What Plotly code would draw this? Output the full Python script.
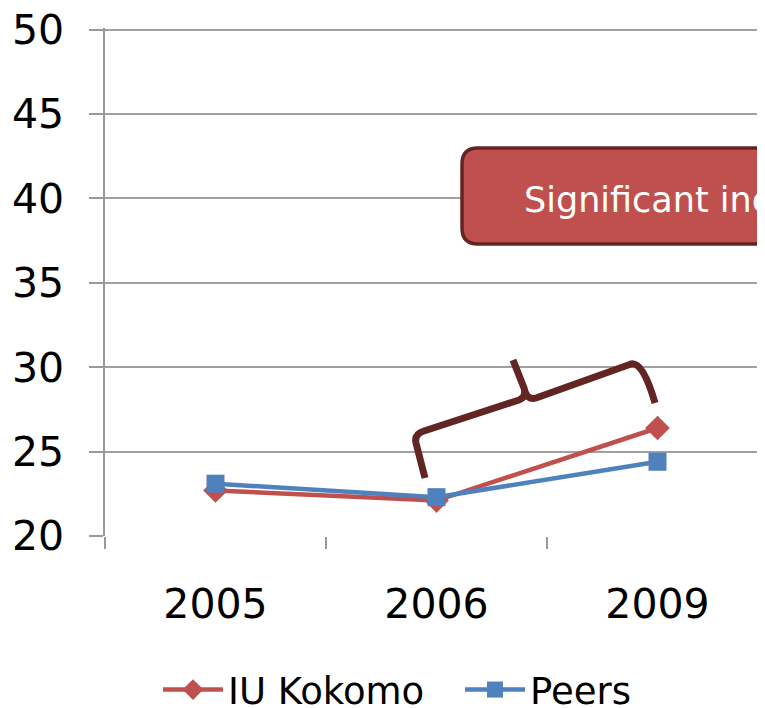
import plotly.graph_objects as go

years = ["2005", "2006", "2009"]
iu_kokomo = [22.7, 22.1, 26.4]
peers = [23.1, 22.3, 24.4]
y_ticks = [20, 25, 30, 35, 40, 45, 50]
callout_text = "Significant increase"

# page body has an 8px margin, so the figure is drawn shifted by 8px
OFF = 8
W, H = 765, 708
L, R, T, B = 97, 5, 20, 180
PW, PH = W - L - R, H - T - B

def px(x, y):
    x -= OFF
    y -= OFF
    return (x - L) / PW, (H - B - y) / PH

def path(cmds):
    out = []
    for c in cmds:
        if isinstance(c, str):
            out.append(c)
        else:
            xx, yy = px(*c)
            out.append(f"{xx:.5f},{yy:.5f}")
    return " ".join(out)

FONT = "DejaVu Sans"
fig = go.Figure()
fig.add_trace(go.Scatter(x=years, y=iu_kokomo, name="IU Kokomo", mode="lines+markers",
                         line=dict(color="#C0504D", width=4.5),
                         marker=dict(symbol="diamond", size=19, color="#C0504D")))
fig.add_trace(go.Scatter(x=years, y=peers, name="Peers", mode="lines+markers",
                         line=dict(color="#4F81BD", width=4.5),
                         marker=dict(symbol="square", size=18, color="#4F81BD")))

# rounded callout box
r = 16
x0, x1, y0, y1 = 462, 840, 148, 244
box = path(["M", (x0 + r, y0), "L", (x1 - r, y0), "Q", (x1, y0), (x1, y0 + r),
            "L", (x1, y1 - r), "Q", (x1, y1), (x1 - r, y1),
            "L", (x0 + r, y1), "Q", (x0, y1), (x0, y1 - r),
            "L", (x0, y0 + r), "Q", (x0, y0), (x0 + r, y0), "Z"])
brace = path(["M", (425, 478), "L", (416, 443), "Q", (414, 434), (424, 431),
              "L", (519, 400), "Q", (527, 397), (524, 388), "L", (513, 360),
              "M", (524, 388), "Q", (527, 401), (536, 398),
              "L", (631, 364), "Q", (643, 361), (655, 403)])
fig.update_layout(shapes=[
    dict(type="path", xref="paper", yref="paper", path=box,
         fillcolor="#C0504D", line=dict(color="#632523", width=3.5), layer="above"),
    dict(type="path", xref="paper", yref="paper", path=brace,
         line=dict(color="#632523", width=7), layer="above"),
])
tx, ty = px(522, 200)
fig.add_annotation(x=tx, y=ty, xref="paper", yref="paper", text=callout_text,
                   showarrow=False, xanchor="left", yanchor="middle",
                   font=dict(family=FONT, size=35, color="white"))

lx, ly = px(158, 690)
fig.update_layout(
    width=W, height=H, margin=dict(l=L, r=R, t=T, b=B, autoexpand=False),
    paper_bgcolor="white", plot_bgcolor="white",
    font=dict(family=FONT, size=36, color="black"),
    xaxis=dict(type="category", range=[-0.5, 2.5], showgrid=False, ticks="outside",
               tickson="boundaries", ticklen=12, tickcolor="#999999", tickwidth=1.5,
               showline=False, zeroline=False, tickfont=dict(size=41),
               ticklabelstandoff=40, automargin=False),
    yaxis=dict(range=[20, 50.1], tickvals=y_ticks, showgrid=True, gridcolor="#A0A0A0",
               gridwidth=1.5, ticks="outside", ticklen=14, tickcolor="#999999",
               tickwidth=1.5, showline=True, linecolor="#999999", linewidth=1.5,
               zeroline=False, tickfont=dict(size=41), ticklabelstandoff=17,
               automargin=False, ticklabeloverflow="allow"),
    showlegend=True,
    legend=dict(orientation="h", x=lx, xanchor="left", y=ly, yanchor="middle",
                font=dict(size=37), itemwidth=60, entrywidth=227,
                entrywidthmode="pixels", tracegroupgap=0),
)
fig.write_html("out.html")
